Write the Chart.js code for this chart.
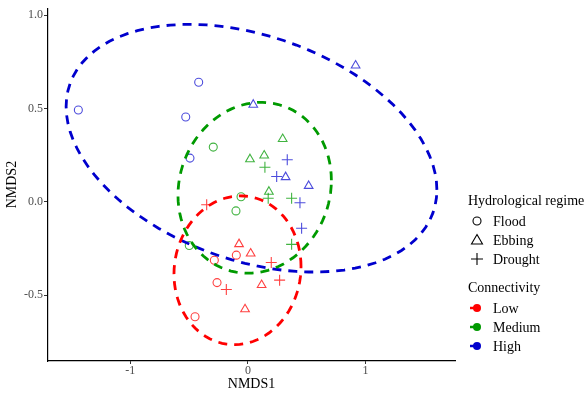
<!DOCTYPE html>
<html>
<head>
<meta charset="utf-8">
<script src="https://cdn.jsdelivr.net/npm/chart.js@4/dist/chart.umd.min.js"></script>
<style>
  html, body { margin: 0; padding: 0; background: #fff; }
  #wrap { width: 587px; height: 397px; position: relative; }
</style>
</head>
<body>
<div id="wrap"><canvas id="myChart"></canvas></div>
<script>
// NMDS scores, one list per connectivity x regime
const lowFlood = [[-0.286, -0.313], [-0.099, -0.286], [-0.263, -0.433], [-0.450, -0.616]];
const lowEbbing = [[-0.076, -0.227], [0.023, -0.277], [0.116, -0.446], [-0.025, -0.576]];
const lowDrought = [[-0.351, -0.016], [0.198, -0.325], [-0.184, -0.470], [0.269, -0.420]];

const mediumFlood = [[-0.295, 0.293], [-0.059, 0.027], [-0.102, -0.049], [-0.499, -0.234]];
const mediumEbbing = [[0.295, 0.336], [0.017, 0.228], [0.138, 0.248], [0.178, 0.054]];
const mediumDrought = [[0.144, 0.185], [0.172, 0.019], [0.371, 0.019], [0.371, -0.228]];

const highFlood = [[-1.442, 0.492], [-0.419, 0.640], [-0.529, 0.454], [-0.493, 0.234]];
const highEbbing = [[0.915, 0.730], [0.045, 0.520], [0.320, 0.132], [0.516, 0.085]];
const highDrought = [[0.334, 0.225], [0.244, 0.135], [0.442, -0.005], [0.456, -0.142]];

// 95% ellipses: centre x, centre y, then
// x = cx + a*cos(t), y = cy + b*cos(t) + c*sin(t)
const lowEllipse = [-0.089, -0.367, 0.540, 0.020, 0.398];
const mediumEllipse = [0.057, 0.075, 0.652, 0.040, 0.456];
const highEllipse = [0.030, 0.287, 1.576, -0.223, 0.625];

const regimes = ["Flood", "Ebbing", "Drought"];
const connectivity = ["Low", "Medium", "High"];
const xTicks = [-1, 0, 1];
const yTicks = [-0.5, 0, 0.5, 1.0];

const lineColors = { Low: "#ff0000", Medium: "#009a00", High: "#0000cd" };
const pointColors = { Low: "rgba(255,0,0,0.75)", Medium: "rgba(0,154,0,0.75)", High: "rgba(0,0,205,0.7)" };
const shapes = { Flood: "circle", Ebbing: "triangle", Drought: "cross" };
const sizes = { Flood: 4, Ebbing: 5, Drought: 5.5 };

const groups = {
  Low: { Flood: lowFlood, Ebbing: lowEbbing, Drought: lowDrought },
  Medium: { Flood: mediumFlood, Ebbing: mediumEbbing, Drought: mediumDrought },
  High: { Flood: highFlood, Ebbing: highEbbing, Drought: highDrought },
};
const ellipses = { Low: lowEllipse, Medium: mediumEllipse, High: highEllipse };

function ellipsePath(e, segments) {
  const out = [];
  for (let k = 0; k <= segments; k++) {
    const t = k * 2 * Math.PI / segments;
    out.push({ x: e[0] + e[2] * Math.cos(t), y: e[1] + e[3] * Math.cos(t) + e[4] * Math.sin(t) });
  }
  return out;
}

const datasets = [];
connectivity.forEach(g => {
  datasets.push({
    label: g + " ellipse",
    data: ellipsePath(ellipses[g], 90),
    showLine: true,
    borderColor: lineColors[g],
    borderWidth: 2.8,
    borderDash: [9, 7],
    pointRadius: 0,
    fill: false,
    tension: 0,
  });
});
connectivity.forEach(g => {
  regimes.forEach(r => {
    datasets.push({
      label: g + " " + r,
      data: groups[g][r].map(q => ({ x: q[0], y: q[1] })),
      pointStyle: shapes[r],
      pointRadius: sizes[r],
      borderColor: pointColors[g],
      backgroundColor: "rgba(0,0,0,0)",
      borderWidth: 1.1,
      showLine: false,
    });
  });
});

const serif = "'Liberation Serif', 'DejaVu Serif', serif";

const legendPlugin = {
  id: "sideLegend",
  afterDraw(chart) {
    const c = chart.ctx;
    c.save();
    c.textBaseline = "middle";
    c.textAlign = "left";
    c.font = "14px " + serif;
    c.fillStyle = "#000";
    c.fillText("Hydrological regime", 468, 201);
    const ry = [221, 240, 259];
    c.strokeStyle = "#000";
    c.lineWidth = 1.1;
    regimes.forEach((r, i) => {
      const y = ry[i], x = 477;
      c.beginPath();
      if (r === "Flood") { c.arc(x, y, 4, 0, Math.PI * 2); }
      else if (r === "Ebbing") { c.moveTo(x, y - 5.5); c.lineTo(x + 5.5, y + 4); c.lineTo(x - 5.5, y + 4); c.closePath(); }
      else { c.moveTo(x - 6, y); c.lineTo(x + 6, y); c.moveTo(x, y - 6); c.lineTo(x, y + 6); }
      c.stroke();
      c.fillStyle = "#000";
      c.fillText(r, 493, y + 1);
    });
    c.fillText("Connectivity", 468, 288);
    const cy = [308, 327, 346];
    connectivity.forEach((g, i) => {
      const y = cy[i];
      c.strokeStyle = lineColors[g];
      c.lineWidth = 2.5;
      c.beginPath(); c.moveTo(470, y); c.lineTo(477, y); c.stroke();
      c.fillStyle = lineColors[g];
      c.beginPath(); c.arc(477, y, 4, 0, Math.PI * 2); c.fill();
      c.fillStyle = "#000";
      c.fillText(g, 493, y + 1);
    });
    c.restore();
  },
};

new Chart(document.getElementById("myChart"), {
  type: "scatter",
  data: { datasets: datasets },
  plugins: [legendPlugin],
  options: {
    responsive: true,
    maintainAspectRatio: false,
    animation: false,
    layout: { padding: { top: 8, right: 132, left: 0, bottom: 0 } },
    plugins: { legend: { display: false }, tooltip: { enabled: false } },
    scales: {
      x: {
        type: "linear",
        min: -1.70,
        max: 1.76,
        afterBuildTicks: s => { s.ticks = xTicks.map(v => ({ value: v })); },
        afterFit: s => { s.height = 36; },
        grid: { display: true, drawOnChartArea: false, tickLength: 3, color: "#333" },
        border: { display: true, color: "#000", width: 1.2 },
        ticks: { color: "#4d4d4d", font: { family: serif, size: 12 }, padding: 0, maxRotation: 0,
          callback: v => String(v) },
        title: { display: true, text: "NMDS1", color: "#000", font: { family: serif, size: 14 }, padding: { top: 0, bottom: 4 } },
      },
      y: {
        type: "linear",
        min: -0.853,
        max: 1.037,
        afterBuildTicks: s => { s.ticks = yTicks.map(v => ({ value: v })); },
        afterFit: s => { s.width = 48; },
        grid: { display: true, drawOnChartArea: false, tickLength: 4, color: "#333" },
        border: { display: true, color: "#000", width: 1.2 },
        ticks: { color: "#4d4d4d", font: { family: serif, size: 12 }, padding: 1,
          callback: v => v.toFixed(1) },
        title: { display: true, text: "NMDS2", color: "#000", font: { family: serif, size: 14 }, padding: { top: 4, bottom: 0 } },
      },
    },
  },
});
</script>
</body>
</html>
